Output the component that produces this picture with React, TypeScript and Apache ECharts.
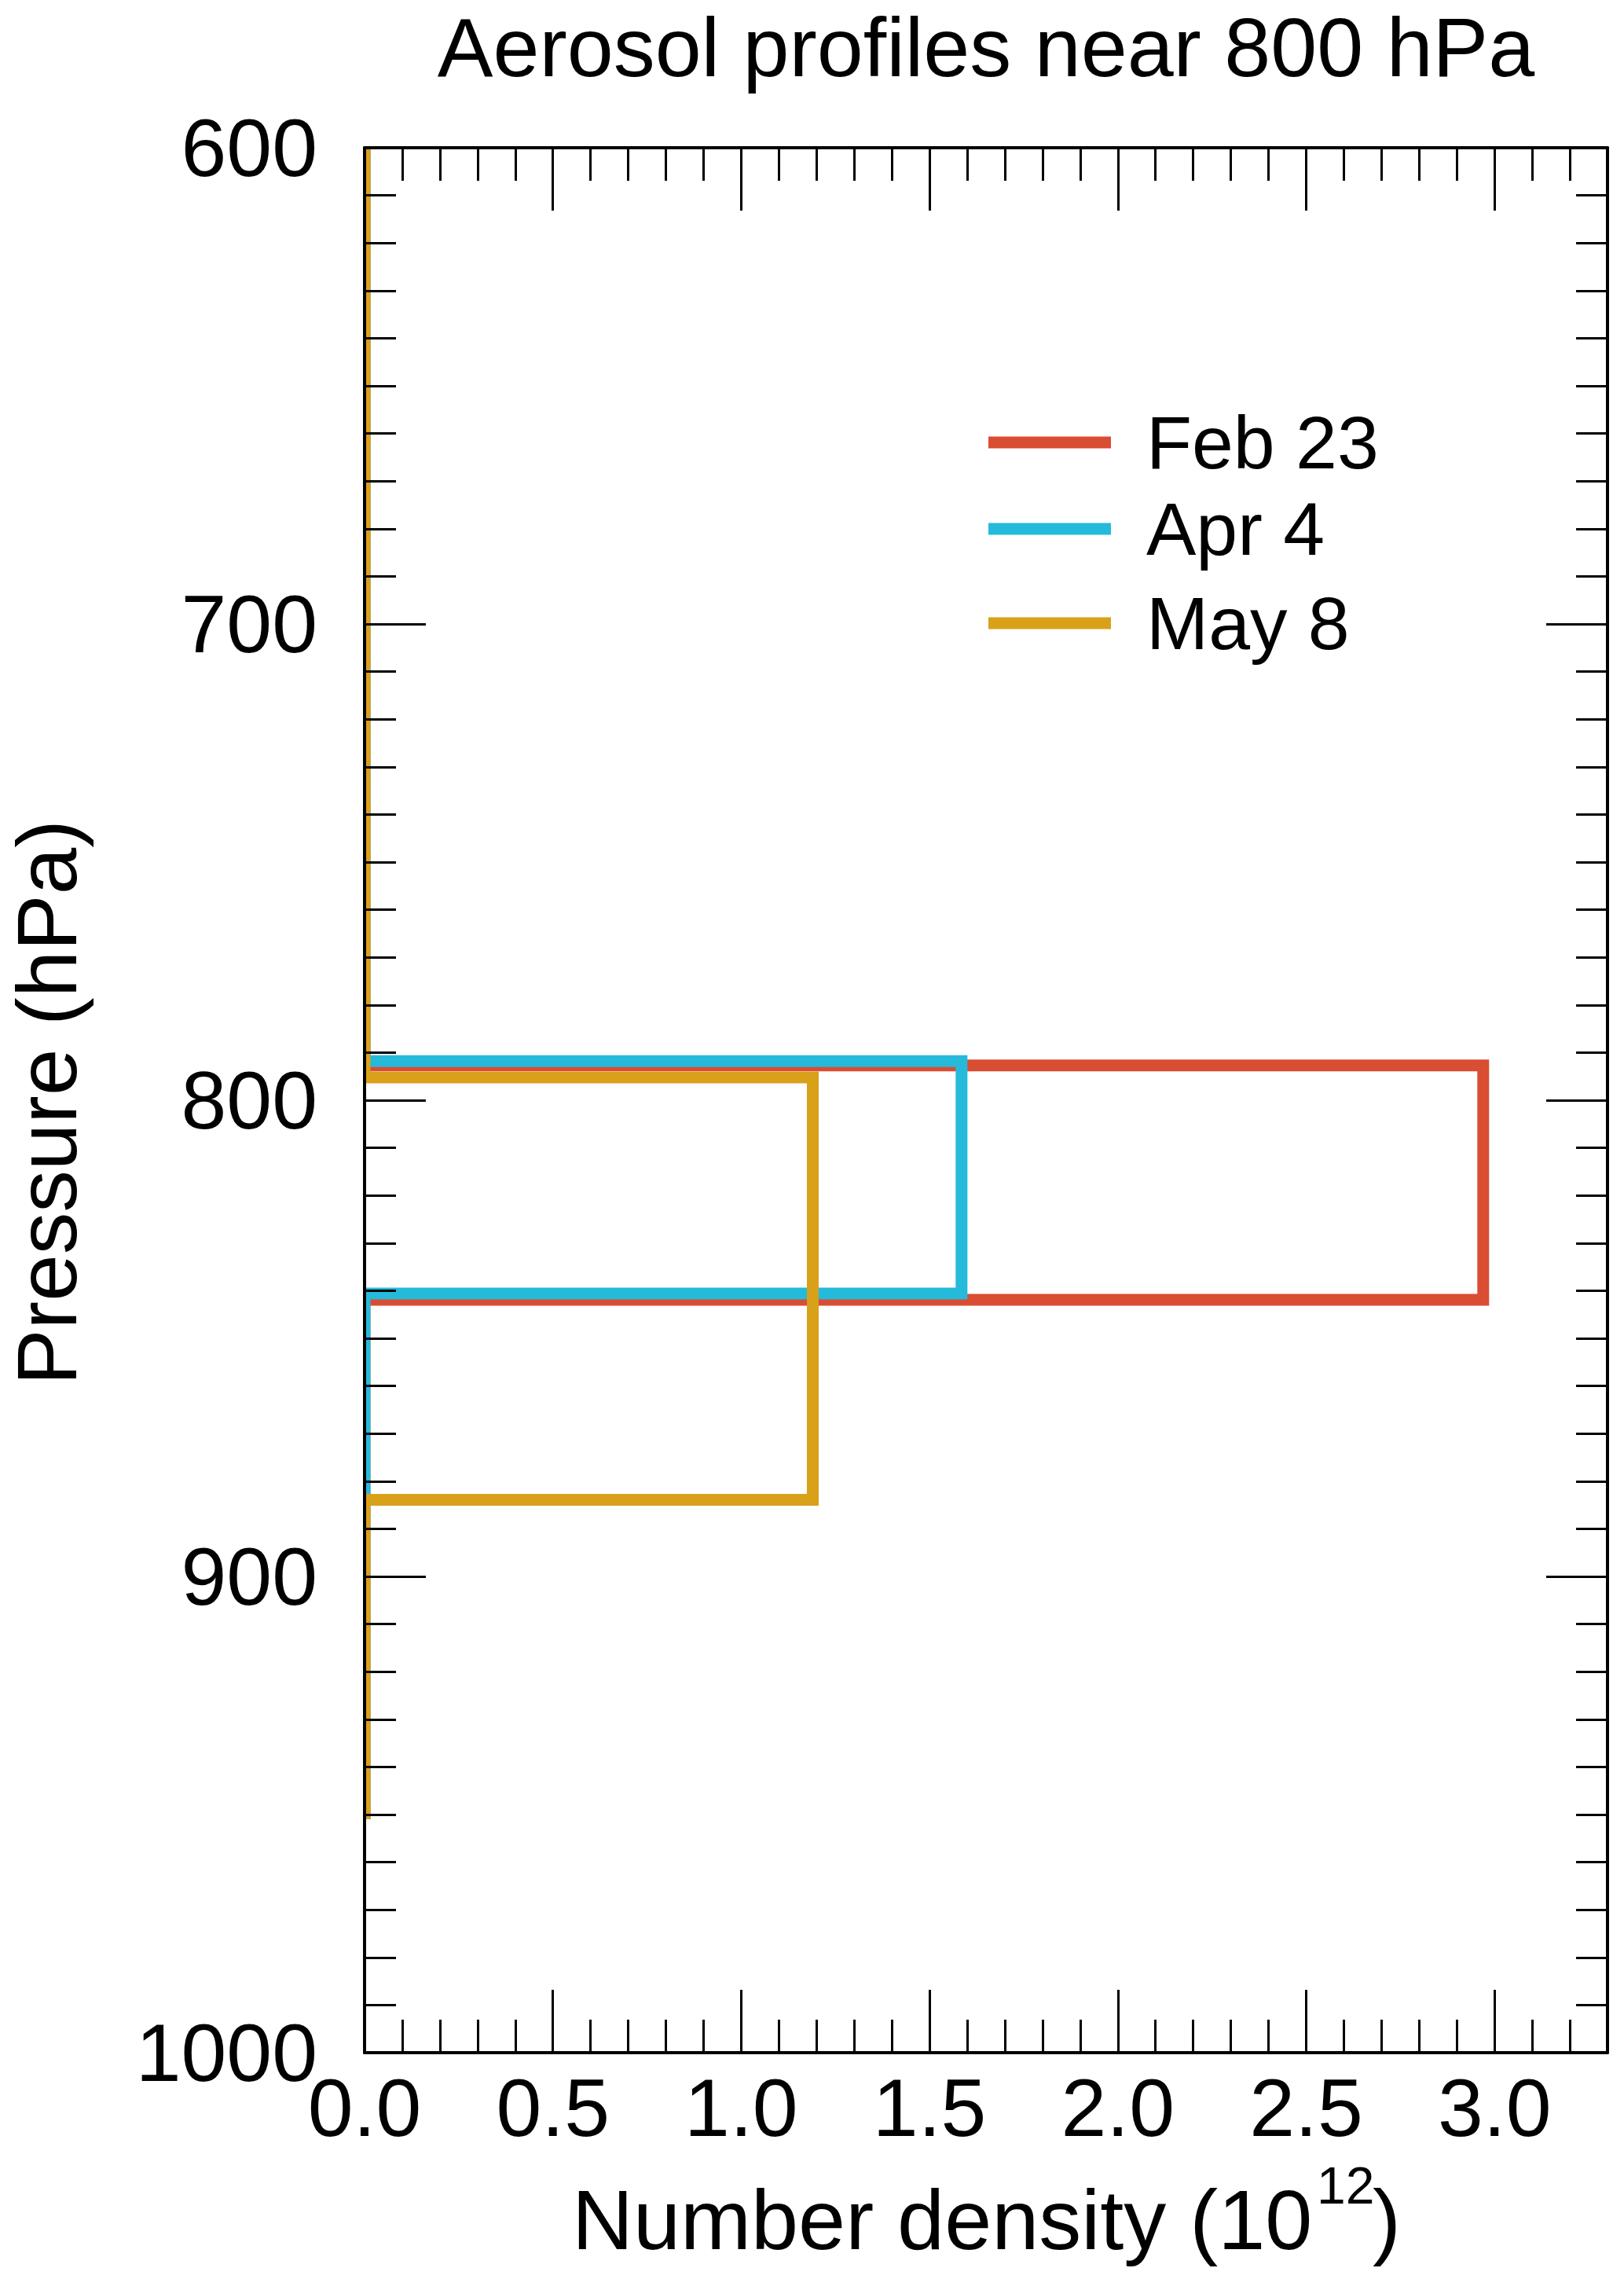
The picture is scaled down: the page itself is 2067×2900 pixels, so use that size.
import React, { useEffect, useRef } from 'react';
import * as echarts from 'echarts';

// ---------- data ----------
const seriesNames = ['Feb 23', 'Apr 4', 'May 8'];
const seriesColors = ['#D94D33', '#25BADA', '#D9A01A'];

// step profiles: number density (10^12) vs pressure (hPa)
const feb23Density = [0, 0, 2.97, 2.97, 0, 0];
const feb23Pressure = [600, 792.7, 792.7, 841.9, 841.9, 951];
const apr4Density = [0, 0, 1.585, 1.585, 0, 0];
const apr4Pressure = [600, 791.8, 791.8, 840.6, 840.6, 951];
const may8Density = [0, 0, 1.19, 1.19, 0, 0];
const may8Pressure = [600, 795.2, 795.2, 883.9, 883.9, 951];

const xMin = 0;
const xMax = 3.3;
const xMajor = 0.5;
const xMinor = 0.1;
const yMin = 600;
const yMax = 1000;
const yMajor = 100;
const yMinor = 10;

const titleText = 'Aerosol profiles near 800 hPa';
const yTitle = 'Pressure (hPa)';
const xTitleMain = 'Number density (10';
const xTitleSup = '12';
const xTitleClose = ')';

// ---------- layout / style ----------
const FONT = '"Liberation Sans", Arial, Helvetica, sans-serif';
const W = 2067;
const H = 2900;
const GRID = { left: 464, top: 188, right: 21, bottom: 288 };
const legendTops = [513, 623, 743];

const pairs = (xs: number[], ys: number[]) => xs.map((x, i) => [x, ys[i]]);

function makeXAxis(position: 'top' | 'bottom', interval: number, tickLen: number, withLine: boolean, withLabels: boolean) {
  return {
    type: 'value',
    position,
    min: xMin,
    max: xMax,
    interval,
    z: 10,
    axisLine: { show: withLine, onZero: false, lineStyle: { color: '#000', width: 4 } },
    axisTick: { show: true, inside: true, length: tickLen, lineStyle: { color: '#000', width: 3 } },
    axisLabel: {
      show: withLabels,
      margin: 18,
      fontSize: 104,
      fontFamily: FONT,
      color: '#000',
      formatter: (v: number) => (v > xMax - 0.01 ? '' : v.toFixed(1)),
    },
    splitLine: { show: false },
    minorTick: { show: false },
  };
}

function makeYAxis(position: 'left' | 'right', interval: number, tickLen: number, withLine: boolean, withLabels: boolean) {
  return {
    type: 'value',
    position,
    min: yMin,
    max: yMax,
    interval,
    inverse: true,
    z: 10,
    axisLine: { show: withLine, onZero: false, lineStyle: { color: '#000', width: 4 } },
    axisTick: { show: true, inside: true, length: tickLen, lineStyle: { color: '#000', width: 3 } },
    axisLabel: {
      show: withLabels,
      margin: 60,
      fontSize: 104,
      fontFamily: FONT,
      color: '#000',
      formatter: (v: number) => String(v),
    },
    splitLine: { show: false },
    minorTick: { show: false },
  };
}

export default function App() {
  const ref = useRef<HTMLDivElement>(null);

  useEffect(() => {
    document.body.style.margin = '0';
    if (!ref.current) return;
    const chart = echarts.init(ref.current, null, { renderer: 'svg' });

    const profiles = [
      pairs(feb23Density, feb23Pressure),
      pairs(apr4Density, apr4Pressure),
      pairs(may8Density, may8Pressure),
    ];

    const textStyleBase = { fontFamily: FONT, fill: '#000' };

    const option: any = {
      animation: false,
      backgroundColor: '#fff',
      grid: {
        left: GRID.left,
        top: GRID.top,
        right: GRID.right,
        bottom: GRID.bottom,
        containLabel: false,
        outerBoundsMode: 'none',
      },
      xAxis: [
        makeXAxis('bottom', xMinor, 42, true, false),
        makeXAxis('bottom', xMajor, 80, false, true),
        makeXAxis('top', xMinor, 42, true, false),
        makeXAxis('top', xMajor, 80, false, false),
      ],
      yAxis: [
        makeYAxis('left', yMinor, 40, true, false),
        makeYAxis('left', yMajor, 78, false, true),
        makeYAxis('right', yMinor, 40, true, false),
        makeYAxis('right', yMajor, 78, false, false),
      ],
      legend: seriesNames.map((name, i) => ({
        data: [{ name, icon: 'rect', itemStyle: { color: seriesColors[i], borderWidth: 0 } }],
        orient: 'vertical',
        left: 1258,
        top: legendTops[i],
        padding: 0,
        itemWidth: 156,
        itemHeight: 15,
        icon: 'rect',
        selectedMode: false,
        itemStyle: { borderWidth: 0 },
        textStyle: {
          fontSize: 95,
          fontFamily: FONT,
          color: '#000',
          lineHeight: 100,
          padding: [0, 0, 0, 40],
        },
      })),
      series: seriesNames.map((name, i) => ({
        name,
        type: 'line',
        xAxisIndex: 0,
        yAxisIndex: 0,
        data: profiles[i],
        showSymbol: false,
        symbol: 'none',
        silent: true,
        z: 2,
        color: seriesColors[i],
        itemStyle: { color: seriesColors[i] },
        lineStyle: { color: seriesColors[i], width: 15, join: 'miter', cap: 'butt' },
      })),
      graphic: [
        {
          type: 'rect',
          z: 5,
          shape: { x: GRID.left - 16, y: GRID.top - 8, width: 14, height: H - GRID.top - GRID.bottom + 16 },
          style: { fill: '#fff' },
          silent: true,
        },
        {
          type: 'text',
          x: 1255,
          y: 60,
          z: 20,
          style: {
            ...textStyleBase,
            text: titleText,
            fontSize: 106,
            lineHeight: 100,
            textAlign: 'center',
            textVerticalAlign: 'middle',
          },
        },
        {
          type: 'text',
          x: 60,
          y: 1403,
          z: 20,
          rotation: Math.PI / 2,
          style: {
            ...textStyleBase,
            text: yTitle,
            fontSize: 107,
            lineHeight: 100,
            textAlign: 'center',
            textVerticalAlign: 'middle',
          },
        },
        {
          type: 'text',
          x: 728,
          y: 2824,
          z: 20,
          style: {
            ...textStyleBase,
            text: xTitleMain,
            fontSize: 108,
            lineHeight: 100,
            textAlign: 'left',
            textVerticalAlign: 'middle',
          },
        },
        {
          type: 'text',
          x: 1676,
          y: 2781,
          z: 20,
          style: {
            ...textStyleBase,
            text: xTitleSup,
            fontSize: 66,
            lineHeight: 60,
            textAlign: 'left',
            textVerticalAlign: 'middle',
          },
        },
        {
          type: 'text',
          x: 1747,
          y: 2824,
          z: 20,
          style: {
            ...textStyleBase,
            text: xTitleClose,
            fontSize: 108,
            lineHeight: 100,
            textAlign: 'left',
            textVerticalAlign: 'middle',
          },
        },
      ],
    };

    chart.setOption(option);
    return () => chart.dispose();
  }, []);

  return <div ref={ref} style={{ width: W, height: H }} />;
}
